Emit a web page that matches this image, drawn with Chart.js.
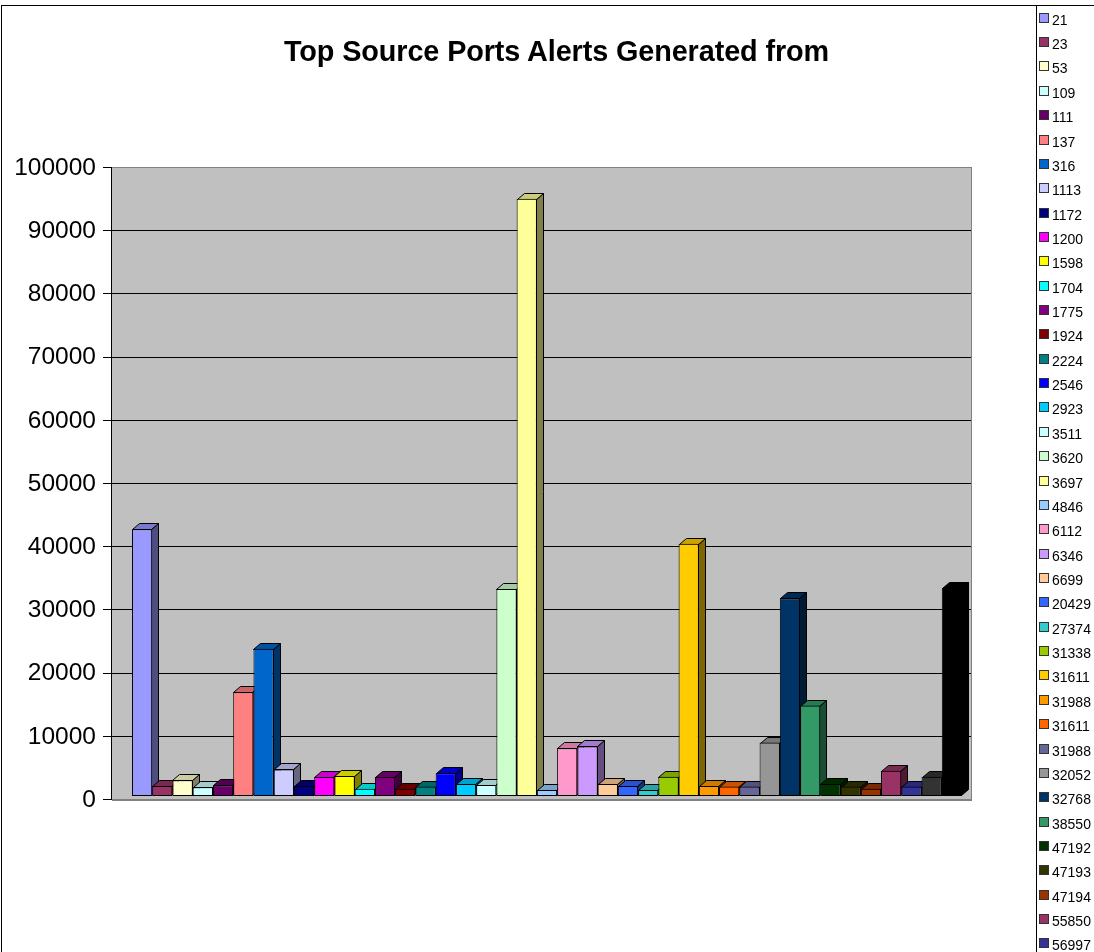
<!DOCTYPE html>
<html>
<head>
<meta charset="utf-8">
<title>Top Source Ports Alerts Generated from</title>
<script src="https://cdn.jsdelivr.net/npm/chart.js@4.4.1/dist/chart.umd.min.js"></script>
<style>
  html, body { margin: 0; padding: 0; background: #fff; overflow: hidden; }
  #wrap { position: relative; width: 1094px; height: 952px; overflow: hidden;
          font-family: "Liberation Sans", Arial, sans-serif; color: #000; }
  #frame { position: absolute; left: 1px; top: 5px; width: 1200px; height: 1200px;
           border-left: 1px solid #000; border-top: 1px solid #000; }
  #legendBox { position: absolute; left: 1036px; top: 5px; width: 200px; height: 1200px;
               border-left: 1px solid #000; }
  #chart { position: absolute; left: 0; top: 0; }
  #title { position: absolute; left: 0; width: 1113px; top: 37px; text-align: center;
           font-weight: bold; font-size: 28.8px; line-height: 28.5px; white-space: nowrap;
           letter-spacing: -0.1px; }
  .item { position: absolute; left: 1039px; height: 16px; white-space: nowrap; }
  .sw { position: absolute; left: 0; top: 0; width: 10px; height: 10px; box-sizing: border-box;
        border: 1px solid #333; }
  .lbl { position: absolute; left: 13px; top: 0; font-size: 14px; line-height: 14px;
         transform: scaleY(1.07); transform-origin: 0 100%; }
</style>
</head>
<body>
<div id="wrap">
  <div id="frame"></div>
  <canvas id="chart" width="1094" height="952"></canvas>
  <div id="title">Top Source Ports Alerts Generated from</div>
  <div id="legendBox"></div>
</div>
<script>
// Source ports (one series each) and the number of alerts raised from them
const portLabels = [
  '21', '23', '53', '109', '111', '137', '316', '1113', '1172', '1200',
  '1598', '1704', '1775', '1924', '2224', '2546', '2923', '3511', '3620', '3697',
  '4846', '6112', '6346', '6699', '20429', '27374', '31338', '31611', '31988', '31611',
  '31988', '32052', '32768', '38550', '47192', '47193', '47194', '55850', '56997', '', ''
];
const alertCounts = [
  42200, 1600, 2500, 1400, 1700, 16400, 23300, 4200, 1600, 3000,
  3150, 1150, 3000, 1150, 1500, 3600, 1900, 1750, 32750, 94500,
  950, 7550, 7850, 1900, 1600, 950, 3050, 39900, 1600, 1500,
  1500, 8450, 31300, 14300, 1900, 1500, 1150, 4000, 1500, 3050, 32900
];
const barColors = [
  '#9999FF', '#993366', '#FFFFCC', '#CCFFFF', '#660066', '#FF8080', '#0066CC', '#CCCCFF', '#000080', '#FF00FF',
  '#FFFF00', '#00FFFF', '#800080', '#800000', '#008080', '#0000FF', '#00CCFF', '#CCFFFF', '#CCFFCC', '#FFFF99',
  '#99CCFF', '#FF99CC', '#CC99FF', '#FFCC99', '#3366FF', '#33CCCC', '#99CC00', '#FFCC00', '#FF9900', '#FF6600',
  '#666699', '#969696', '#003366', '#339966', '#003300', '#333300', '#993300', '#993366', '#333399', '#333333', '#000000'
];
const yTicks = [0, 10000, 20000, 30000, 40000, 50000, 60000, 70000, 80000, 90000, 100000];

// 3D look: depth of each column and of the back wall behind the columns
const DEPTH_X = 7, DEPTH_Y = -6, WALL_DROP = 4, WALL_WIDTH = 862;

function shade(hex, f) {
  const n = parseInt(hex.slice(1), 16);
  const r = Math.round(((n >> 16) & 255) * f);
  const g = Math.round(((n >> 8) & 255) * f);
  const b = Math.round((n & 255) * f);
  return 'rgb(' + r + ',' + g + ',' + b + ')';
}

// Grey back wall with its gridlines, axis line and tick marks
const backWall = {
  id: 'backWall',
  beforeDraw(chart) {
    const { ctx, chartArea } = chart;
    const ys = chart.scales.y;
    const L = chartArea.left;
    const wallL = L + 2, wallR = L + WALL_WIDTH;
    const top = ys.getPixelForValue(yTicks[yTicks.length - 1]) + WALL_DROP;
    const bottom = ys.getPixelForValue(0) + WALL_DROP;
    ctx.save();
    ctx.fillStyle = '#C0C0C0';
    ctx.fillRect(wallL, top, wallR - wallL, bottom - top);
    ctx.lineWidth = 1;
    ctx.strokeStyle = '#000';
    yTicks.forEach(v => {
      const py = Math.round(ys.getPixelForValue(v) + WALL_DROP) - 0.5;
      ctx.beginPath();
      ctx.moveTo(L - 7, py);
      ctx.lineTo(wallR, py);
      ctx.stroke();
    });
    // wall outline
    ctx.strokeStyle = '#808080';
    ctx.beginPath();
    ctx.moveTo(wallL, Math.round(top) - 0.5);
    ctx.lineTo(wallR, Math.round(top) - 0.5);
    ctx.moveTo(wallR - 0.5, Math.round(top));
    ctx.lineTo(wallR - 0.5, Math.round(bottom));
    ctx.stroke();
    ctx.lineWidth = 2;
    ctx.beginPath();
    ctx.moveTo(wallL, Math.round(bottom));
    ctx.lineTo(wallR, Math.round(bottom));
    ctx.stroke();
    // value axis line
    ctx.lineWidth = 1;
    ctx.strokeStyle = '#000';
    ctx.beginPath();
    ctx.moveTo(L + 1.5, Math.round(top) - 1);
    ctx.lineTo(L + 1.5, Math.round(bottom));
    ctx.stroke();
    ctx.restore();
  }
};

// Side and top faces of each column, painted left to right before the fronts
const columnDepth = {
  id: 'columnDepth',
  beforeDatasetsDraw(chart) {
    const { ctx } = chart;
    ctx.save();
    ctx.lineWidth = 1;
    ctx.strokeStyle = '#000';
    ctx.lineJoin = 'miter';
    for (let i = 0; i < chart.data.datasets.length; i++) {
      const el = chart.getDatasetMeta(i).data[0];
      if (!el) continue;
      const p = el.getProps(['x', 'y', 'base', 'width'], true);
      const left = Math.round(p.x - p.width / 2) + 0.5;
      const right = Math.round(p.x + p.width / 2) - 0.5;
      const top = Math.round(p.y) + 0.5;
      const bottom = Math.round(p.base) - 0.5;
      const col = barColors[i];
      // side face
      ctx.fillStyle = shade(col, 0.5);
      ctx.beginPath();
      ctx.moveTo(right, top);
      ctx.lineTo(right + DEPTH_X, top + DEPTH_Y);
      ctx.lineTo(right + DEPTH_X, bottom + DEPTH_Y);
      ctx.lineTo(right, bottom);
      ctx.closePath();
      ctx.fill();
      ctx.stroke();
      // top face
      ctx.fillStyle = shade(col, 0.8);
      ctx.beginPath();
      ctx.moveTo(left, top);
      ctx.lineTo(left + DEPTH_X, top + DEPTH_Y);
      ctx.lineTo(right + DEPTH_X, top + DEPTH_Y);
      ctx.lineTo(right, top);
      ctx.closePath();
      ctx.fill();
      ctx.stroke();
    }
    ctx.restore();
  }
};

const datasets = portLabels.map((port, i) => ({
  label: port,
  data: [alertCounts[i]],
  backgroundColor: barColors[i],
  borderColor: '#000',
  borderWidth: 1,
  borderSkipped: false,
  categoryPercentage: 0.9497,
  barPercentage: 1
}));

new Chart(document.getElementById('chart'), {
  type: 'bar',
  data: { labels: [''], datasets },
  options: {
    responsive: false,
    animation: false,
    devicePixelRatio: 1,
    layout: { padding: { top: 164, bottom: 156, left: 0, right: 110 } },
    plugins: { legend: { display: false }, title: { display: false }, tooltip: { enabled: false } },
    scales: {
      x: { display: false, offset: true, grid: { display: false } },
      y: {
        min: 0,
        max: 100000,
        afterFit(scale) { scale.width = 110; },
        afterBuildTicks(scale) { scale.ticks = yTicks.map(v => ({ value: v })); },
        grid: { display: false, drawTicks: false },
        border: { display: false },
        ticks: {
          color: '#000',
          padding: 14,
          labelOffset: WALL_DROP,
          font: { family: '"Liberation Sans", Arial, sans-serif', size: 24.5 },
          callback: v => String(v)
        }
      }
    }
  },
  plugins: [backWall, columnDepth]
});

// Legend column on the right, one entry per series
const wrap = document.getElementById('wrap');
portLabels.forEach((port, i) => {
  const item = document.createElement('div');
  item.className = 'item';
  item.style.top = (12.7 + 24.36 * i) + 'px';
  const sw = document.createElement('div');
  sw.className = 'sw';
  sw.style.background = barColors[i];
  const lbl = document.createElement('div');
  lbl.className = 'lbl';
  lbl.textContent = port;
  item.appendChild(sw);
  item.appendChild(lbl);
  wrap.appendChild(item);
});
</script>
</body>
</html>
